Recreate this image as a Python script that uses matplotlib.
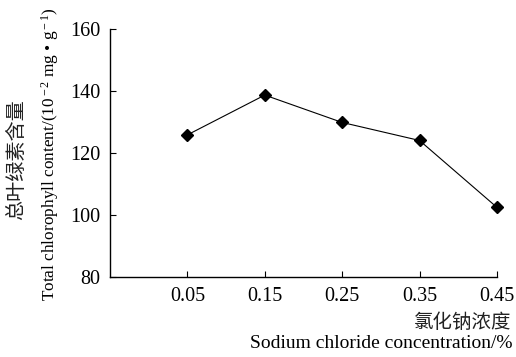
import matplotlib
matplotlib.use("Agg")
import matplotlib.pyplot as plt

conc = [0.05, 0.15, 0.25, 0.35, 0.45]
chlorophyll = [125.8, 138.6, 129.8, 124.0, 102.5]
x_ticks = [0.05, 0.15, 0.25, 0.35, 0.45]
x_tick_labels = ["0.05", "0.15", "0.25", "0.35", "0.45"]
y_ticks = [80, 100, 120, 140, 160]

plt.rcParams["mathtext.fontset"] = "custom"
plt.rcParams["mathtext.rm"] = "Liberation Serif"
plt.rcParams["mathtext.it"] = "Liberation Serif:italic"
plt.rcParams["mathtext.bf"] = "Liberation Serif:bold"

serif = ["Liberation Serif", "DejaVu Serif"]
cjk = ["Noto Sans CJK SC", "DejaVu Sans"]

fig = plt.figure(figsize=(5.16, 3.57), dpi=100)
ax = fig.add_axes([0.2132, 0.2233, 0.963 - 0.2132, 0.920 - 0.2233])

ax.plot(conc, chlorophyll, color="black", lw=0.8, marker="D", ms=6.5,
        mfc="black", mec="black", clip_on=False)

ax.set_xlim(-0.05, 0.45)
ax.set_ylim(80, 160)
ax.set_xticks(x_ticks)
ax.set_xticklabels(x_tick_labels)
ax.set_yticks(y_ticks)
for sp in ["top", "right"]:
    ax.spines[sp].set_visible(False)
for sp in ["left", "bottom"]:
    ax.spines[sp].set_linewidth(1.0)
ax.tick_params(direction="in", length=4, width=0.8, pad=7, labelsize=14.5)
for lab in ax.get_xticklabels() + ax.get_yticklabels():
    lab.set_fontfamily(serif)

fig.text(17 / 516, 1 - 160 / 357, "总叶绿素含量", rotation=90, ha="center", va="center",
         fontsize=14.5, family=cjk, color="#222222")
fig.text(50 / 516, 1 - 154 / 357,
         r"Total chlorophyll content/(10$^{\rm -2}$ mg • g$^{\rm -1}$)",
         rotation=90, ha="center", va="center", fontsize=12.4, family=serif)
fig.text(511 / 516, 1 - 323 / 357, "氯化钠浓度", ha="right", va="center",
         fontsize=14, family=cjk, color="#222222")
fig.text(513 / 516, 1 - 344 / 357, "Sodium chloride concentration/%", ha="right",
         va="center", fontsize=14, family=serif)

fig.savefig("out.png", dpi=100)
